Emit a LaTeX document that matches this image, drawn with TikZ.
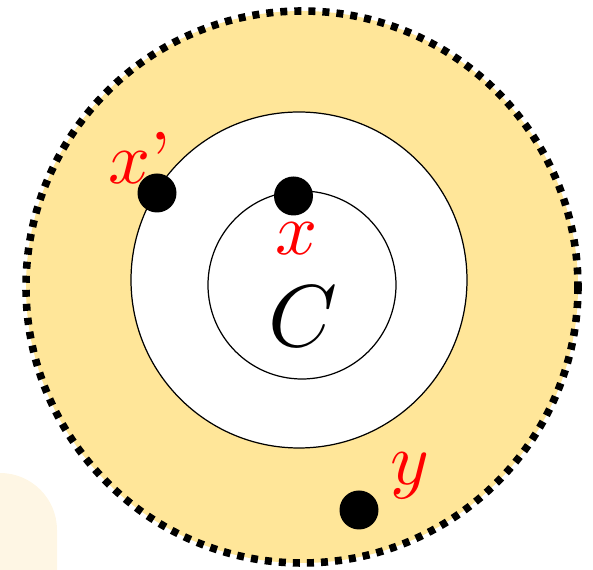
\documentclass[tikz,border=0pt]{standalone}
\usepackage{amsmath}
\definecolor{ringfill}{RGB}{255,230,153}
\definecolor{paleshade}{RGB}{254,246,228}
\tikzset{
  pointdot/.style={fill=black},
  ptlabel/.style={text=red, inner sep=0pt, scale=4.2},
  ringline/.style={line width=0.7pt}
}

\begin{document}
\begin{tikzpicture}[x=0.02cm, y=-0.02cm]
         \useasboundingbox (0,0) rectangle (593,570);
         % pale shape, lower left
         \fill[paleshade] (0,570) -- (0,473) arc[start angle=-90, end angle=0, radius=57] -- (57,570) -- cycle;
         % outer disc
         \fill[ringfill] (302,287) circle (276);
         \draw[line width=4.3pt, dash pattern=on 4pt off 4pt] (302,287) circle (276);
         % middle circle
         \filldraw[ringline, fill=white] (299,280) circle (168);
         % inner circle C
         \draw[ringline] (302,285) circle (94);
         \node[inner sep=0pt, scale=5] (clab) at (303,316) {$C$};
         % points
         \fill[pointdot] (157,193) circle (19.5);
         \fill[pointdot] (293.5,196) circle (19.5);
         \fill[pointdot] (359,510) circle (19.5);
         \node[ptlabel] (xplab) at (140,158) {$x$'};
         \node[ptlabel] (xlab) at (297,239) {$x$};
         \node[ptlabel] (ylab) at (410,476) {$y$};
       \end{tikzpicture}
\end{document}
